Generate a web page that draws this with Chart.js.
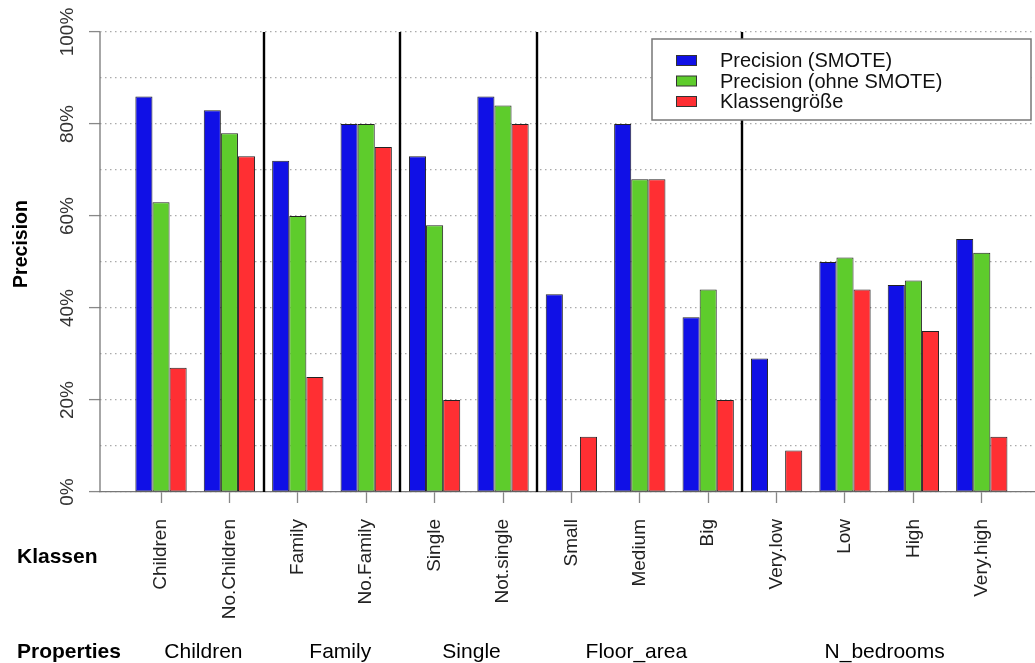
<!DOCTYPE html>
<html>
<head>
<meta charset="utf-8">
<script src="https://cdn.jsdelivr.net/npm/chart.js@4/dist/chart.umd.min.js"></script>
<style>
  html, body { margin: 0; padding: 0; background: #fff; }
  #wrap { width: 1035px; height: 663px; position: relative; }
</style>
</head>
<body>
<div id="wrap"><canvas id="chart"></canvas></div>
<script>
// data
const classes = ['Children','No.Children','Family','No.Family','Single','Not.single','Small','Medium','Big','Very.low','Low','High','Very.high'];
const precSmote = [86, 83, 72, 80, 73, 86, 43, 80, 38, 29, 50, 45, 55];
const precPlain = [63, 78, 60, 80, 58, 84, 0, 68, 44, 0, 51, 46, 52];
const classSize = [27, 73, 25, 75, 20, 80, 12, 68, 20, 9, 44, 35, 12];
const seriesNames = ['Precision (SMOTE)', 'Precision (ohne SMOTE)', 'Klassengröße'];
const seriesColors = ['#1010e6', '#5ecc2c', '#ff2f33'];
const yTicks = [0, 20, 40, 60, 80, 100];
// property groups: name + label centre (in class-index units)
const properties = ['Children', 'Family', 'Single', 'Floor_area', 'N_bedrooms'];
const propertyPos = [0.62, 2.62, 4.54, 6.95, 10.58];
const separators = [1.5, 3.5, 5.5, 8.5];

const FONT = "'Liberation Sans', Arial, Helvetica, sans-serif";

function points(vals){
  return vals.map((v, i) => ({ x: i, y: v }));
}

// extra drawing: axis line, separators, legend, side labels
const decor = {
  id: 'decor',
  afterDatasetsDraw(chart){
    const { ctx, chartArea: ca, scales: { x, y } } = chart;
    ctx.save();

    // y axis line
    ctx.strokeStyle = '#777';
    ctx.lineWidth = 1.3;
    ctx.beginPath();
    ctx.moveTo(ca.left, y.getPixelForValue(100));
    ctx.lineTo(ca.left, y.getPixelForValue(0));
    ctx.stroke();

    // y tick labels, rotated
    ctx.fillStyle = '#333';
    ctx.font = '19px ' + FONT;
    ctx.textAlign = 'center';
    ctx.textBaseline = 'alphabetic';
    yTicks.forEach(t => {
      ctx.save();
      ctx.translate(73, y.getPixelForValue(t));
      ctx.rotate(-Math.PI / 2);
      ctx.fillText(t + '%', 0, 0);
      ctx.restore();
    });

    // y title
    ctx.save();
    ctx.translate(27, 244);
    ctx.rotate(-Math.PI / 2);
    ctx.font = 'bold 19.5px ' + FONT;
    ctx.fillStyle = '#000';
    ctx.fillText('Precision', 0, 0);
    ctx.restore();

    // group separators
    ctx.strokeStyle = '#000';
    ctx.lineWidth = 2.4;
    separators.forEach(s => {
      const px = Math.round(x.getPixelForValue(s));
      ctx.beginPath();
      ctx.moveTo(px, ca.top);
      ctx.lineTo(px, ca.bottom);
      ctx.stroke();
    });

    // legend box
    ctx.fillStyle = '#fff';
    ctx.fillRect(652, 39, 379, 81);
    ctx.strokeStyle = '#777';
    ctx.lineWidth = 1.5;
    ctx.strokeRect(652, 39, 379, 81);
    const rows = [60.5, 81, 101.5];
    ctx.font = '20px ' + FONT;
    ctx.textAlign = 'left';
    ctx.textBaseline = 'middle';
    seriesNames.forEach((name, i) => {
      ctx.fillStyle = seriesColors[i];
      ctx.fillRect(676.5, rows[i] - 5, 20, 10);
      ctx.strokeStyle = '#333';
      ctx.lineWidth = 1;
      ctx.strokeRect(676.5, rows[i] - 5, 20, 10);
      ctx.fillStyle = '#111';
      ctx.fillText(name, 720, rows[i] + 1);
    });

    // row labels below the axis
    ctx.fillStyle = '#000';
    ctx.font = 'bold 21px ' + FONT;
    ctx.fillText('Klassen', 17, 557);
    ctx.fillText('Properties', 17, 652);
    ctx.font = '21px ' + FONT;
    ctx.textAlign = 'center';
    properties.forEach((p, i) => {
      ctx.fillText(p, x.getPixelForValue(propertyPos[i]), 652);
    });

    ctx.restore();
  }
};

new Chart(document.getElementById('chart'), {
  type: 'bar',
  data: {
    datasets: [
      { label: seriesNames[0], data: points(precSmote), backgroundColor: seriesColors[0] },
      { label: seriesNames[1], data: points(precPlain), backgroundColor: seriesColors[1] },
      { label: seriesNames[2], data: points(classSize), backgroundColor: seriesColors[2] }
    ]
  },
  options: {
    responsive: true,
    maintainAspectRatio: false,
    animation: false,
    layout: { padding: { top: 32, right: 0, bottom: 0, left: 0 } },
    datasets: {
      bar: {
        categoryPercentage: 0.75,
        barPercentage: 1,
        borderColor: '#222',
        borderWidth: 1,
        borderSkipped: false
      }
    },
    plugins: {
      legend: { display: false },
      tooltip: { enabled: false }
    },
    scales: {
      x: {
        type: 'linear',
        offset: false,
        min: -0.892,
        max: 12.778,
        afterBuildTicks: s => { s.ticks = classes.map((_, i) => ({ value: i })); },
        afterFit: s => { s.height = 171; },
        grid: { offset: false, drawOnChartArea: false, drawTicks: true, tickLength: 11, tickColor: '#888', tickWidth: 1.3 },
        border: { display: true, color: '#777', width: 1.3 },
        ticks: {
          autoSkip: false,
          minRotation: 90,
          maxRotation: 90,
          padding: 16,
          color: '#222',
          font: { family: FONT, size: 19 },
          callback: v => classes[v] || ''
        }
      },
      y: {
        min: 0,
        max: 100,
        afterFit: s => { s.width = 100; },
        grid: {
          color: '#aaa',
          lineWidth: 1.2,
          borderDash: [1.5, 3.5],
          tickLength: 11,
          tickWidth: 1.3,
          tickColor: c => (c.tick && c.tick.value % 20 === 0) ? '#888' : 'rgba(0,0,0,0)'
        },
        border: { display: false, dash: [1.5, 3.5] },
        ticks: { stepSize: 10, display: false }
      }
    }
  },
  plugins: [decor]
});
</script>
</body>
</html>
